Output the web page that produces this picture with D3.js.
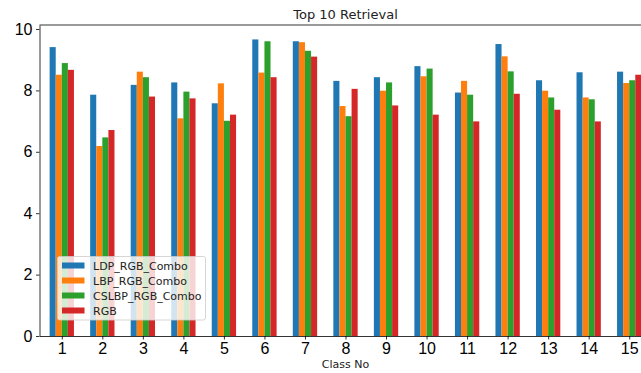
<!DOCTYPE html>
<html>
<head>
<meta charset="utf-8">
<script src="https://d3js.org/d3.v7.min.js"></script>
<style>
  body { margin: 0; background: #fff; }
  svg { display: block; font-family: "DejaVu Sans", sans-serif; }
</style>
</head>
<body>
<svg width="641" height="373"></svg>
<script>
// values
const classes = [1, 2, 3, 4, 5, 6, 7, 8, 9, 10, 11, 12, 13, 14, 15];
const seriesNames = ["LDP_RGB_Combo", "LBP_RGB_Combo", "CSLBP_RGB_Combo", "RGB"];
const seriesColors = ["#1f77b4", "#ff7f0e", "#2ca02c", "#d62728"];
const ldp   = [9.41, 7.86, 8.18, 8.26, 7.58, 9.66, 9.60, 8.31, 8.43, 8.79, 7.93, 9.51, 8.33, 8.59, 8.61];
const lbp   = [8.51, 6.19, 8.61, 7.09, 8.23, 8.58, 9.57, 7.49, 7.99, 8.46, 8.31, 9.11, 7.99, 7.77, 8.24];
const cslbp = [8.89, 6.47, 8.43, 7.96, 7.01, 9.60, 9.29, 7.16, 8.26, 8.71, 7.86, 8.62, 7.77, 7.71, 8.33];
const rgb   = [8.67, 6.71, 7.80, 7.74, 7.21, 8.43, 9.10, 8.05, 7.51, 7.21, 6.99, 7.89, 7.37, 6.99, 8.51];
const yTicks = [0, 2, 4, 6, 8, 10];

const series = [ldp, lbp, cslbp, rgb];
const svg = d3.select("svg");

// plot area runs past the right edge of the picture, like the reference
const plotL = 39.5, plotR = 651.5, plotT = 25, plotB = 336;
const x = d3.scaleLinear().domain([0.45, 15.55]).range([plotL, plotR]);
const y = d3.scaleLinear().domain([0, 10.13]).range([plotB, plotT]);
const bw = 0.15;

series.forEach((vals, i) => {
  svg.append("g").selectAll("rect")
    .data(vals)
    .join("rect")
    .attr("x", (d, j) => x(classes[j] - 0.3 + i * bw))
    .attr("width", x(bw) - x(0))
    .attr("y", d => y(d))
    .attr("height", d => y(0) - y(d))
    .attr("fill", seriesColors[i]);
});

// axes
const xAxis = svg.append("g")
  .attr("transform", `translate(0,${plotB})`)
  .call(d3.axisBottom(x).tickValues(classes).tickSize(3.5).tickPadding(3).tickSizeOuter(0));
xAxis.selectAll("text").style("font-size", "16px").attr("fill", "#000");

const yAxis = svg.append("g")
  .attr("transform", `translate(${plotL},0)`)
  .call(d3.axisLeft(y).tickValues(yTicks).tickSize(3.5).tickPadding(3.5).tickSizeOuter(0));
yAxis.selectAll("text").style("font-size", "16px").attr("fill", "#000");

[xAxis, yAxis].forEach(a => {
  a.select(".domain").attr("stroke", "#000").attr("stroke-width", 0.8);
  a.selectAll(".tick line").attr("stroke", "#000").attr("stroke-width", 0.8);
});

// top spine
svg.append("line")
  .attr("x1", plotL).attr("x2", plotR)
  .attr("y1", plotT).attr("y2", plotT)
  .attr("stroke", "#000").attr("stroke-width", 0.8);

// titles
svg.append("text")
  .attr("x", (plotL + plotR) / 2).attr("y", 19)
  .attr("text-anchor", "middle")
  .style("font-size", "13px")
  .attr("fill", "#222")
  .text("Top 10 Retrieval");

svg.append("text")
  .attr("x", (plotL + plotR) / 2).attr("y", 368)
  .attr("text-anchor", "middle")
  .style("font-size", "11px")
  .attr("fill", "#222")
  .text("Class No");

// legend
const lg = svg.append("g").attr("transform", "translate(57.5,256.5)");
lg.append("rect")
  .attr("width", 148).attr("height", 63.5)
  .attr("rx", 2)
  .attr("fill", "#fff").attr("fill-opacity", 0.8)
  .attr("stroke", "#ccc").attr("stroke-width", 0.8);
seriesNames.forEach((name, i) => {
  const row = lg.append("g").attr("transform", `translate(0,${9 + i * 15})`);
  row.append("rect")
    .attr("x", 4.5).attr("y", -3)
    .attr("width", 22.5).attr("height", 6)
    .attr("fill", seriesColors[i]);
  row.append("text")
    .attr("x", 35.5).attr("y", 4.5)
    .style("font-size", "11px")
    .attr("fill", "#222")
    .text(name);
});
</script>
</body>
</html>
